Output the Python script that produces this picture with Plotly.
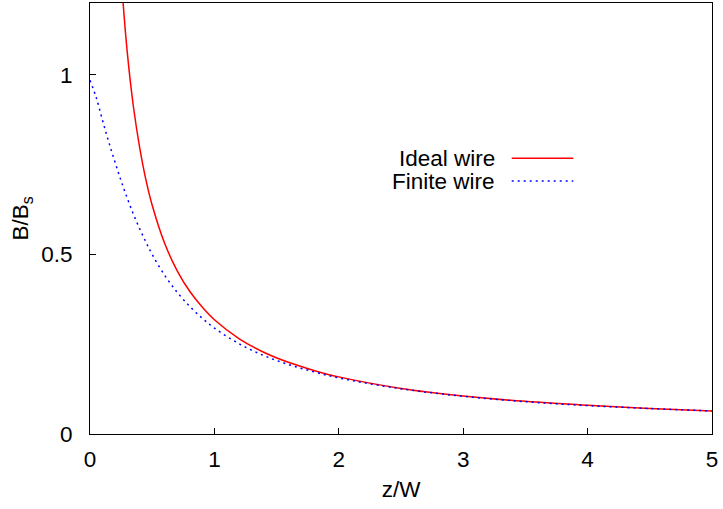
import plotly.graph_objects as go

# z/W sample positions and B/Bs values
z_ideal = [0.25, 0.3, 0.35, 0.4, 0.45, 0.5, 0.6, 0.7, 0.8, 0.9, 1.0, 1.2, 1.4,
           1.6, 1.8, 2.0, 2.5, 3.0, 3.5, 4.0, 4.5, 5.0]
b_ideal = [1.273, 1.061, 0.909, 0.796, 0.707, 0.637, 0.531, 0.455, 0.398, 0.354,
           0.318, 0.265, 0.227, 0.199, 0.177, 0.159, 0.127, 0.106, 0.091, 0.080,
           0.071, 0.064]

z_finite = [0.0, 0.05, 0.1, 0.15, 0.2, 0.25, 0.3, 0.35, 0.4, 0.45, 0.5, 0.6, 0.7,
            0.8, 0.9, 1.0, 1.2, 1.4, 1.6, 1.8, 2.0, 2.5, 3.0, 3.5, 4.0, 4.5, 5.0]
b_finite = [0.985, 0.937, 0.874, 0.814, 0.758, 0.705, 0.656, 0.611, 0.571, 0.534,
            0.500, 0.442, 0.395, 0.356, 0.323, 0.295, 0.251, 0.218, 0.193, 0.173,
            0.156, 0.126, 0.105, 0.090, 0.079, 0.071, 0.064]

series_names = ["Ideal wire", "Finite wire"]
x_ticks = [0, 1, 2, 3, 4, 5]
y_ticks = [0, 0.5, 1]
y_tick_text = ["0", "0.5", "1"]

FONT = "Liberation Sans, Arial, sans-serif"
FS = 22.5

fig = go.Figure()
fig.add_trace(go.Scatter(x=z_ideal, y=b_ideal, mode="lines", name=series_names[0],
                         line=dict(color="#ff0000", width=1.5, shape="spline"),
                         showlegend=False))
fig.add_trace(go.Scatter(x=z_finite, y=b_finite, mode="lines", name=series_names[1],
                         line=dict(color="#0000ff", width=1.5, shape="spline", dash="2px,4px"),
                         showlegend=False))

# legend drawn gnuplot-style: text on the left, line sample on the right
leg_y = [0.640, 0.587]
leg_styles = [dict(color="#ff0000", width=1.5), dict(color="#0000ff", width=1.5, dash="2px,4px")]
for name, yy, st in zip(series_names, leg_y, leg_styles):
    fig.add_annotation(x=0.654, y=yy, xref="paper", yref="paper", text=name,
                       showarrow=False, xanchor="right", yanchor="middle",
                       font=dict(family=FONT, size=FS, color="black"))
    fig.add_shape(type="line", xref="paper", yref="paper", x0=0.678, x1=0.777,
                  y0=yy, y1=yy, line=st)

axis_common = dict(showline=True, linecolor="black", linewidth=1, mirror=True,
                   ticks="inside", ticklen=6, tickwidth=1, tickcolor="black",
                   showgrid=False, zeroline=False, automargin=False,
                   tickfont=dict(family=FONT, size=FS, color="black"))

fig.update_xaxes(range=[0, 5], tickvals=x_ticks, ticklabelstandoff=5,
                 title=dict(text="z/W", font=dict(family=FONT, size=FS, color="black"), standoff=10),
                 **axis_common)
fig.update_yaxes(range=[0, 1.2], tickvals=y_ticks, ticktext=y_tick_text, ticklabelstandoff=12,
                 title=dict(text="B/B<sub>s</sub>", font=dict(family=FONT, size=FS, color="black"), standoff=6),
                 **axis_common)

fig.update_layout(width=723, height=509, margin=dict(l=90, r=11, t=3, b=75),
                  paper_bgcolor="white", plot_bgcolor="white",
                  font=dict(family=FONT, size=FS, color="black"))

fig.write_html("out.html", config={"displayModeBar": False},
               post_script="document.body.style.margin='0';document.body.style.overflow='hidden';")
